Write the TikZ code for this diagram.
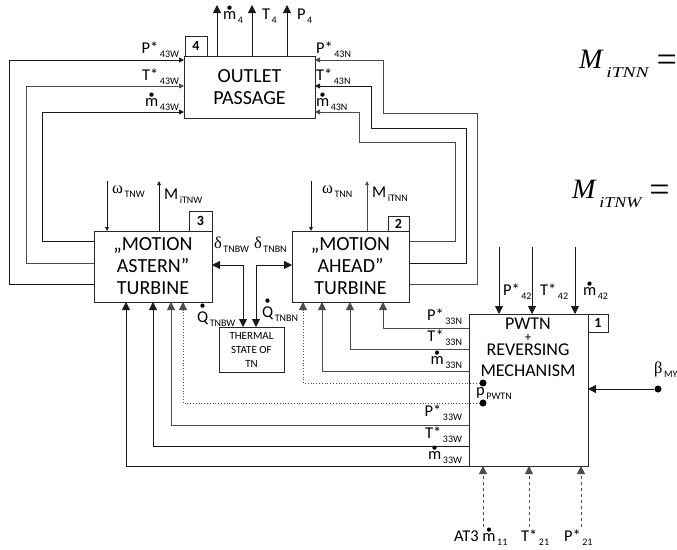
\documentclass[tikz,border=0pt]{standalone}
\usepackage{fontspec}
\setmainfont{Carlito}
\newfontfamily\timesf{Liberation Serif}
\usetikzlibrary{arrows.meta}
\newcommand\md{\ooalign{m\cr\hidewidth\raisebox{0.48em}{\fontsize{12}{12}\selectfont\textbullet}\hidewidth\cr}}
\newcommand\Qd{\ooalign{Q\cr\hidewidth\raisebox{0.76em}{\fontsize{12}{12}\selectfont\textbullet}\hidewidth\cr}}
\newcommand\lab[2]{{\fontsize{16.5}{16.5}\selectfont #1}\,\raisebox{-4pt}{\fontsize{10}{10}\selectfont #2}}
\newcommand\eqlab[2]{\timesf\itshape{\fontsize{28}{28}\selectfont M}\hspace{4pt}\raisebox{-9pt}{\scalebox{#2}[1]{\fontsize{15}{15}\selectfont #1}}\hspace{8pt}\raisebox{-3.5pt}{\upshape\fontsize{36}{36}\selectfont =}}
\begin{document}
\begin{tikzpicture}[x=1pt,y=-1pt,line join=miter,
  blk/.style={draw=black!85,line width=0.9pt,inner sep=0pt,outer sep=0pt,fill=white,align=center,
     font=\fontsize{20}{22}\selectfont,anchor=north west},
  numb/.style={draw=black!85,line width=0.9pt,inner sep=0pt,outer sep=0pt,fill=white,font=\bfseries\fontsize{14}{14}\selectfont},
  wire/.style={line width=0.8pt,draw=black!90},
  gw/.style={line width=0.8pt,draw=black!70},
  big/.style={-{Triangle[length=8pt,width=8pt]}},
  bigb/.style={{Triangle[length=8pt,width=8pt]}-{Triangle[length=8pt,width=8pt]}},
  med/.style={-{Triangle[length=5pt,width=5pt]}},
  sml/.style={-{Triangle[length=4pt,width=3.5pt]}},
  lbl/.style={inner sep=0pt,outer sep=0pt},
  dt/.style={fill=black,circle,inner sep=0pt,minimum size=7pt}]
\useasboundingbox (0,0) rectangle (677,549);
% boxes
\node[blk,minimum width=131pt,minimum height=62pt] (out) at (184,56) {OUTLET\\PASSAGE};
\node[numb,minimum width=22pt,minimum height=20pt,anchor=south west] (n4) at (185,56) {4};
\node[blk,minimum width=118pt,minimum height=71pt] (ast) at (94,231) {„MOTION\\ASTERN”\\TURBINE};
\node[numb,minimum width=23pt,minimum height=20pt,anchor=south east] (n3) at (ast.north east) {3};
\node[blk,minimum width=117pt,minimum height=71pt] (ahd) at (292,231) {„MOTION\\AHEAD”\\TURBINE};
\node[numb,minimum width=21pt,minimum height=15pt,anchor=south east] (n2) at (ahd.north east) {2};
\node[blk,minimum width=65pt,minimum height=45pt,font=\fontsize{11}{14}\selectfont] (th) at (219,327) {THERMAL\\STATE OF\\TN};
\node[blk,minimum width=119pt,minimum height=152pt] (pw) at (469,314) {};
\node[numb,minimum width=20pt,minimum height=18pt,anchor=north west] (n1) at (pw.north east) {1};
\node[lbl,anchor=north,align=center,font=\fontsize{18}{21}\selectfont] (pwt) at (528,318) {PWTN\\[-9pt]{\fontsize{13}{13}\selectfont +}\\[-7pt]REVERSING\\MECHANISM};
% outlet outputs
\coordinate (o1) at (217,5); \coordinate (o2) at (252,5); \coordinate (o3) at (287,5);
\draw[wire,big] (out.north -| o1) -- (o1);
\draw[wire,big] (out.north -| o2) -- (o2);
\draw[wire,big] (out.north -| o3) -- (o3);
\node[lbl,anchor=base west] (lm4) at (223,19) {\lab{\md}{4}};
\node[lbl,anchor=base west] (lt4) at (262,19) {\lab{T}{4}};
\node[lbl,anchor=base west] (lp4) at (297,19) {\lab{P}{4}};
% outlet left inputs from astern turbine
\draw[wire,med] (ast.west |- 0,284) -| (9,60) -- (out.west |- 0,60);
\draw[gw,med] (ast.west |- 0,263) -| (26,86) -- (out.west |- 0,86);
\draw[wire,med] (ast.west |- 0,241) -| (42,112) -- (out.west |- 0,112);
\node[lbl,anchor=base east] (l1) at (179,53) {\lab{P*}{43W}};
\node[lbl,anchor=base east] (l2) at (179,80) {\lab{T*}{43W}};
\node[lbl,anchor=base east] (l3) at (179,106) {\lab{\md}{43W}};
% outlet right inputs from ahead turbine
\draw[gw,med] (ahd.east |- 0,284) -| (477,113) -| (383,60) -- (out.east |- 0,60);
\draw[wire,med] (ahd.east |- 0,263) -| (466,128) -| (371,86) -- (out.east |- 0,86);
\draw[gw,med] (ahd.east |- 0,241) -| (455,142) -| (359,112) -- (out.east |- 0,112);
\node[lbl,anchor=base west] (r1) at (316,53) {\lab{P*}{43N}};
\node[lbl,anchor=base west] (r2) at (316,80) {\lab{T*}{43N}};
\node[lbl,anchor=base west] (r3) at (316,106) {\lab{\md}{43N}};
% omega / M
\coordinate (w1) at (107,181); \coordinate (m1) at (159,181);
\coordinate (w2) at (311,181); \coordinate (m2) at (367,181);
\draw[wire,sml] (w1) -- (ast.north -| w1);
\draw[wire,sml] (ast.north -| m1) -- (m1);
\draw[wire,sml] (w2) -- (ahd.north -| w2);
\draw[gw,sml] (ahd.north -| m2) -- (m2);
\node[lbl,anchor=base west] (lw1) at (112,193) {\lab{\timesf ω}{TNW}};
\node[lbl,anchor=base west] (lM1) at (164,199) {\lab{M}{iTNW}};
\node[lbl,anchor=base west] (lw2) at (322,193) {\lab{\timesf ω}{TNN}};
\node[lbl,anchor=base west] (lM2) at (372,197) {\lab{M}{iTNN}};
% delta / Q lines
\draw[wire,bigb] (ast.east |- 0,265) -| (th.north -| 243,0);
\draw[wire,bigb] (ahd.west |- 0,265) -| (th.north -| 256,0);
\node[lbl,anchor=base west] (ld1) at (214,248) {\lab{\timesf δ}{TNBW}};
\node[lbl,anchor=base west] (ld2) at (254,248) {\lab{\timesf δ}{TNBN}};
\node[lbl,anchor=base west] (lq1) at (197,322) {\lab{\Qd}{TNBW}};
\node[lbl,anchor=base west] (lq2) at (262,317) {\lab{\Qd}{TNBN}};
% PWTN top inputs
\coordinate (t1) at (499,247); \coordinate (t2) at (532,247); \coordinate (t3) at (575,247);
\draw[wire,big] (t1) -- (pw.north -| t1);
\draw[wire,big] (t2) -- (pw.north -| t2);
\draw[wire,big] (t3) -- (pw.north -| t3);
\node[lbl,anchor=base west] (lp42) at (503,295) {\lab{P*}{42}};
\node[lbl,anchor=base west] (lt42) at (540,295) {\lab{T*}{42}};
\node[lbl,anchor=base west] (lm42) at (583,295) {\lab{\md}{42}};
% beta
\node[dt] (bdot) at (658,389) {};
\draw[wire,big] (bdot) -- (pw.east |- bdot);
\node[lbl,anchor=base west] (lb) at (654,373) {\lab{\timesf β}{MY}};
% PWTN -> ahead turbine
\draw[gw,big] (pw.west |- 0,328) -| (ahd.south -| 383,0);
\draw[gw,big] (pw.west |- 0,349) -| (ahd.south -| 350,0);
\draw[gw,big] (pw.west |- 0,371) -| (ahd.south -| 322,0);
\node[dt] (pd1) at (483,383) {};
\draw[gw,dotted,big] (pd1) -| (ahd.south -| 303,0);
\node[lbl,anchor=base east] (a1) at (462,320) {\lab{P*}{33N}};
\node[lbl,anchor=base east] (a2) at (462,341) {\lab{T*}{33N}};
\node[lbl,anchor=base east] (a3) at (462,364) {\lab{\md}{33N}};
\node[lbl,anchor=base west] (lpp) at (476,395) {\lab{p}{PWTN}};
% PWTN -> astern turbine
\node[dt] (pd2) at (483,403) {};
\draw[gw,dotted,big] (pd2) -| (ast.south -| 183,0);
\draw[gw,big] (pw.west |- 0,425) -| (ast.south -| 171,0);
\draw[wire,big] (pw.west |- 0,446) -| (ast.south -| 153,0);
\draw[wire,big] (pw.south west) -| (ast.south -| 126,0);
\node[lbl,anchor=base east] (b1) at (462,416) {\lab{P*}{33W}};
\node[lbl,anchor=base east] (b2) at (462,438) {\lab{T*}{33W}};
\node[lbl,anchor=base east] (b3) at (462,459) {\lab{\md}{33W}};
% bottom dashed inputs
\coordinate (u1) at (483,527); \coordinate (u2) at (529,527); \coordinate (u3) at (581,527);
\draw[gw,dashed,big] (u1) -- (pw.south -| u1);
\draw[gw,dashed,big] (u2) -- (pw.south -| u2);
\draw[gw,dashed,big] (u3) -- (pw.south -| u3);
\node[lbl,anchor=base west] (lu1) at (454,541) {{\fontsize{16.5}{16.5}\selectfont AT3 }\lab{\md}{11}};
\node[lbl,anchor=base west] (lu2) at (521,541) {\lab{T*}{21}};
\node[lbl,anchor=base west] (lu3) at (564,541) {\lab{P*}{21}};
% equations
\node[lbl,anchor=base west] (e1) at (579,68) {\eqlab{iTNN}{1.3}};
\node[lbl,anchor=base west] (e2) at (572,198) {\eqlab{iTNW}{1.2}};
\end{tikzpicture}
\end{document}
